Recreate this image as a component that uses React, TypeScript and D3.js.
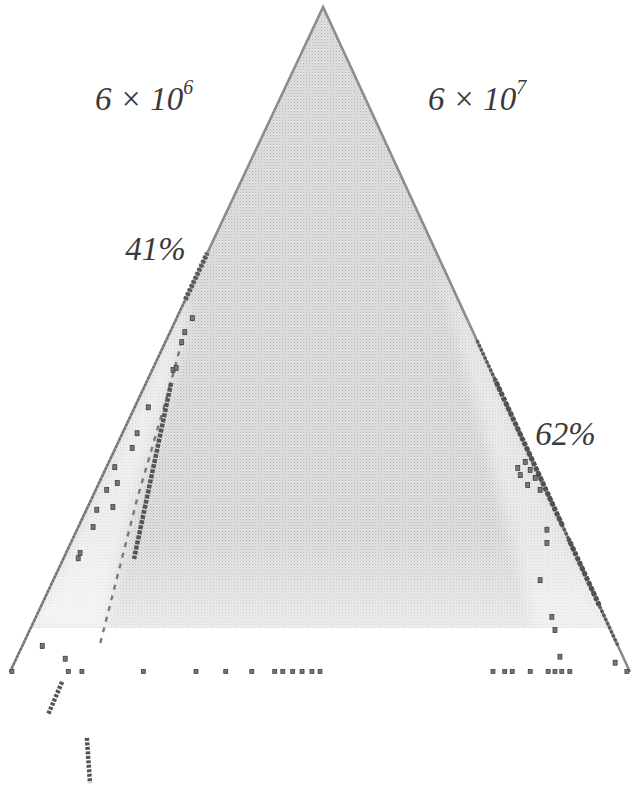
import React from "react";
import * as d3 from "d3";

// Chart geometry in data units (0–100 on both axes)
const apex: [number, number] = [50.5, 100];
const bottomLeft: [number, number] = [0, 0];
const bottomRight: [number, number] = [100, 0];
const fillFloor = 6.6;

// Edge runs as fractions along each edge (0 = base, 1 = apex)
const leftEdgeHeavy: [number, number][] = [[0.56, 0.63]];
const leftEdgeDotted: [number, number][] = [[0.0, 0.56]];
const rightEdgeHeavy: [number, number][] = [[0.22, 0.44], [0.1, 0.2]];
const rightEdgeDotted: [number, number][] = [[0.04, 0.5]];

// Inner boundary line on the left side
const innerLine: [number, number][] = [[28.2, 51.4], [25.5, 42], [20.5, 26], [14.5, 4.1]];
const innerLineDense: [number, number][] = [[26.0, 43.5], [20.0, 17.0]];

// Scattered observations
const leftPoints: [number, number][] = [
  [29.4, 53.2], [28.2, 51.1], [27.7, 49.6], [26.3, 45.4], [26.8, 45.7],
  [22.3, 39.8], [20.5, 35.9], [19.7, 33.7], [16.9, 30.8], [17.3, 28.4],
  [15.6, 27.4], [16.6, 24.8], [14.0, 24.4], [13.4, 21.8], [11.0, 17.1],
  [11.3, 17.9], [5.2, 3.9], [8.9, 2.0],
];
const rightPoints: [number, number][] = [
  [86.6, 21.4], [86.6, 19.4], [85.5, 13.8], [87.4, 8.3], [87.9, 6.3],
  [88.7, 2.3], [97.6, 1.4], [83.1, 31.6], [83.9, 30.4], [82.3, 29.6],
  [84.7, 29.2], [83.5, 28.1], [85.5, 27.4], [81.9, 30.7],
];
const baselinePoints: number[] = [
  0.3, 9.4, 11.6, 21.5, 30.0, 34.8, 39.0, 42.7, 44.0, 45.6, 47.1, 48.7, 50.0,
  77.9, 79.8, 81.0, 83.9, 86.8, 87.9, 89.0, 90.3, 99.5,
];
const strayStrokes: [number, number][][] = [
  [[8.4, -1.5], [6.1, -6.5]],
  [[12.4, -9.9], [12.9, -16.7]],
];

// Labels
const topLeftLabel = { base: "6 × 10", exp: "6", at: [13.7, 84.5] as [number, number] };
const topRightLabel = { base: "6 × 10", exp: "7", at: [67.4, 84.5] as [number, number] };
const pctLabels: { text: string; at: [number, number] }[] = [
  { text: "41%", at: [18.6, 61.9] },
  { text: "62%", at: [84.7, 34.1] },
];

const W = 638;
const H = 787;

export default function App() {
  const x = d3.scaleLinear().domain([0, 100]).range([10, 630]);
  const y = d3.scaleLinear().domain([0, 100]).range([672, 7]);
  const P = (p: [number, number]) => [x(p[0]), y(p[1])] as [number, number];
  const pts = (arr: [number, number][]) => arr.map(P).map((p) => p.join(",")).join(" ");

  const along = (a: [number, number], b: [number, number], t: number) =>
    [a[0] + (b[0] - a[0]) * t, a[1] + (b[1] - a[1]) * t] as [number, number];
  const leftAt = (t: number) => along(bottomLeft, apex, t);
  const rightAt = (t: number) => along(bottomRight, apex, t);
  const tAtY = (v: number) => v / 100;

  const line = d3.line<[number, number]>().x((d) => x(d[0])).y((d) => y(d[1]));

  const fillPoly: [number, number][] = [leftAt(tAtY(fillFloor)), apex, rightAt(tAtY(fillFloor))];
  const innerAtY = (v: number) => {
    const a = innerLine[innerLine.length - 2];
    const b = innerLine[innerLine.length - 1];
    const t = (v - a[1]) / (b[1] - a[1]);
    return [a[0] + (b[0] - a[0]) * t, v] as [number, number];
  };
  const leftBand: [number, number][] = [
    leftAt(0.574),
    leftAt(tAtY(fillFloor)),
    innerAtY(fillFloor),
    ...innerLine.slice(0, -1).slice().reverse(),
  ];
  const rightBand: [number, number][] = [
    rightAt(0.62),
    rightAt(tAtY(fillFloor)),
    [84.5, fillFloor],
    [69.5, 60],
  ];

  const edgeSeg = (f: (t: number) => [number, number], r: [number, number]) =>
    line([f(r[0]), f(r[1])]) as string;

  const serif = "'Liberation Serif', 'DejaVu Serif', serif";

  return (
    <svg width={W} height={H} style={{ display: "block", position: "absolute", left: 0, top: 0 }}>
      <defs>
        <pattern id="halftone" width="3" height="3" patternUnits="userSpaceOnUse">
          <rect width="3" height="3" fill="#e0e0e0" />
          <rect width="1" height="1" fill="#b2b2b2" />
          <rect x="1.5" y="1.5" width="1" height="1" fill="#c6c6c6" />
        </pattern>
        <pattern id="halftoneLight" width="3" height="3" patternUnits="userSpaceOnUse">
          <rect width="3" height="3" fill="#f4f4f4" />
          <rect width="1" height="1" fill="#d2d2d2" />
        </pattern>
        <linearGradient id="floorFade" x1="0" y1="0" x2="0" y2="1">
          <stop offset="0.85" stopColor="#fff" stopOpacity="0" />
          <stop offset="1" stopColor="#fff" stopOpacity="0.45" />
        </linearGradient>
        <filter id="soft" x="-20%" y="-20%" width="140%" height="140%">
          <feGaussianBlur stdDeviation="7" />
        </filter>
        <clipPath id="triClip">
          <polygon points={pts(fillPoly)} />
        </clipPath>
      </defs>
      <rect width={W} height={H} fill="#fff" />

      {/* shaded interior */}
      <polygon points={pts(fillPoly)} fill="url(#halftone)" />
      <polygon points={pts(fillPoly)} fill="url(#floorFade)" />
      <g clipPath="url(#triClip)">
        <polygon points={pts(leftBand)} fill="#ffffff" opacity={0.55} filter="url(#soft)" />
        <polygon points={pts(rightBand)} fill="#ffffff" opacity={0.4} filter="url(#soft)" />
      </g>

      {/* triangle outline */}
      <path d={line([bottomLeft, apex, bottomRight]) as string} fill="none" stroke="#8c8c8c" strokeWidth={2.6} />

      {/* marked runs along the edges */}
      {leftEdgeHeavy.map((r, i) => (
        <path key={`lh${i}`} d={edgeSeg(leftAt, r)} stroke="#5a5a5a" strokeWidth={5} strokeDasharray="3 1.5" fill="none" />
      ))}
      {leftEdgeDotted.map((r, i) => (
        <path key={`ld${i}`} d={edgeSeg(leftAt, r)} stroke="#707070" strokeWidth={2.2} strokeDasharray="2 2" fill="none" />
      ))}
      {rightEdgeDotted.map((r, i) => (
        <path key={`rd${i}`} d={edgeSeg(rightAt, r)} stroke="#5a5a5a" strokeWidth={3.4} strokeDasharray="3 1.5" fill="none" />
      ))}
      {rightEdgeHeavy.map((r, i) => (
        <path key={`rh${i}`} d={edgeSeg(rightAt, r)} stroke="#505050" strokeWidth={5} strokeDasharray="4 1.5" fill="none" />
      ))}

      {/* inner boundary */}
      <path d={line(innerLine) as string} stroke="#7a7a7a" strokeWidth={2.4} strokeDasharray="5 6" fill="none" />
      <path d={line(innerLineDense) as string} stroke="#555" strokeWidth={4.5} strokeDasharray="4 1.2" fill="none" />

      {/* scattered points */}
      {[...leftPoints, ...rightPoints].map((p, i) => (
        <rect key={`p${i}`} x={x(p[0]) - 2} y={y(p[1]) - 2.5} width={4} height={5} fill="#777" stroke="#333" strokeWidth={0.7} />
      ))}
      {baselinePoints.map((v, i) => (
        <rect key={`b${i}`} x={x(v) - 2} y={y(0) - 2.5} width={4} height={4} fill="#777" stroke="#333" strokeWidth={0.7} />
      ))}
      {strayStrokes.map((s, i) => (
        <path key={`s${i}`} d={line(s) as string} stroke="#555" strokeWidth={4.5} strokeDasharray="3 1.5" fill="none" />
      ))}

      {/* labels */}
      {[topLeftLabel, topRightLabel].map((l, i) => (
        <text key={`t${i}`} x={x(l.at[0])} y={y(l.at[1])} fontFamily={serif} fontStyle="italic" fontSize={33} fill="#3a3a3a">
          {l.base}
          <tspan dy={-16} fontSize={20}>{l.exp}</tspan>
        </text>
      ))}
      {pctLabels.map((l, i) => (
        <text key={`q${i}`} x={x(l.at[0])} y={y(l.at[1])} fontFamily={serif} fontStyle="italic" fontSize={33} fill="#3a3a3a">
          {l.text}
        </text>
      ))}
    </svg>
  );
}
